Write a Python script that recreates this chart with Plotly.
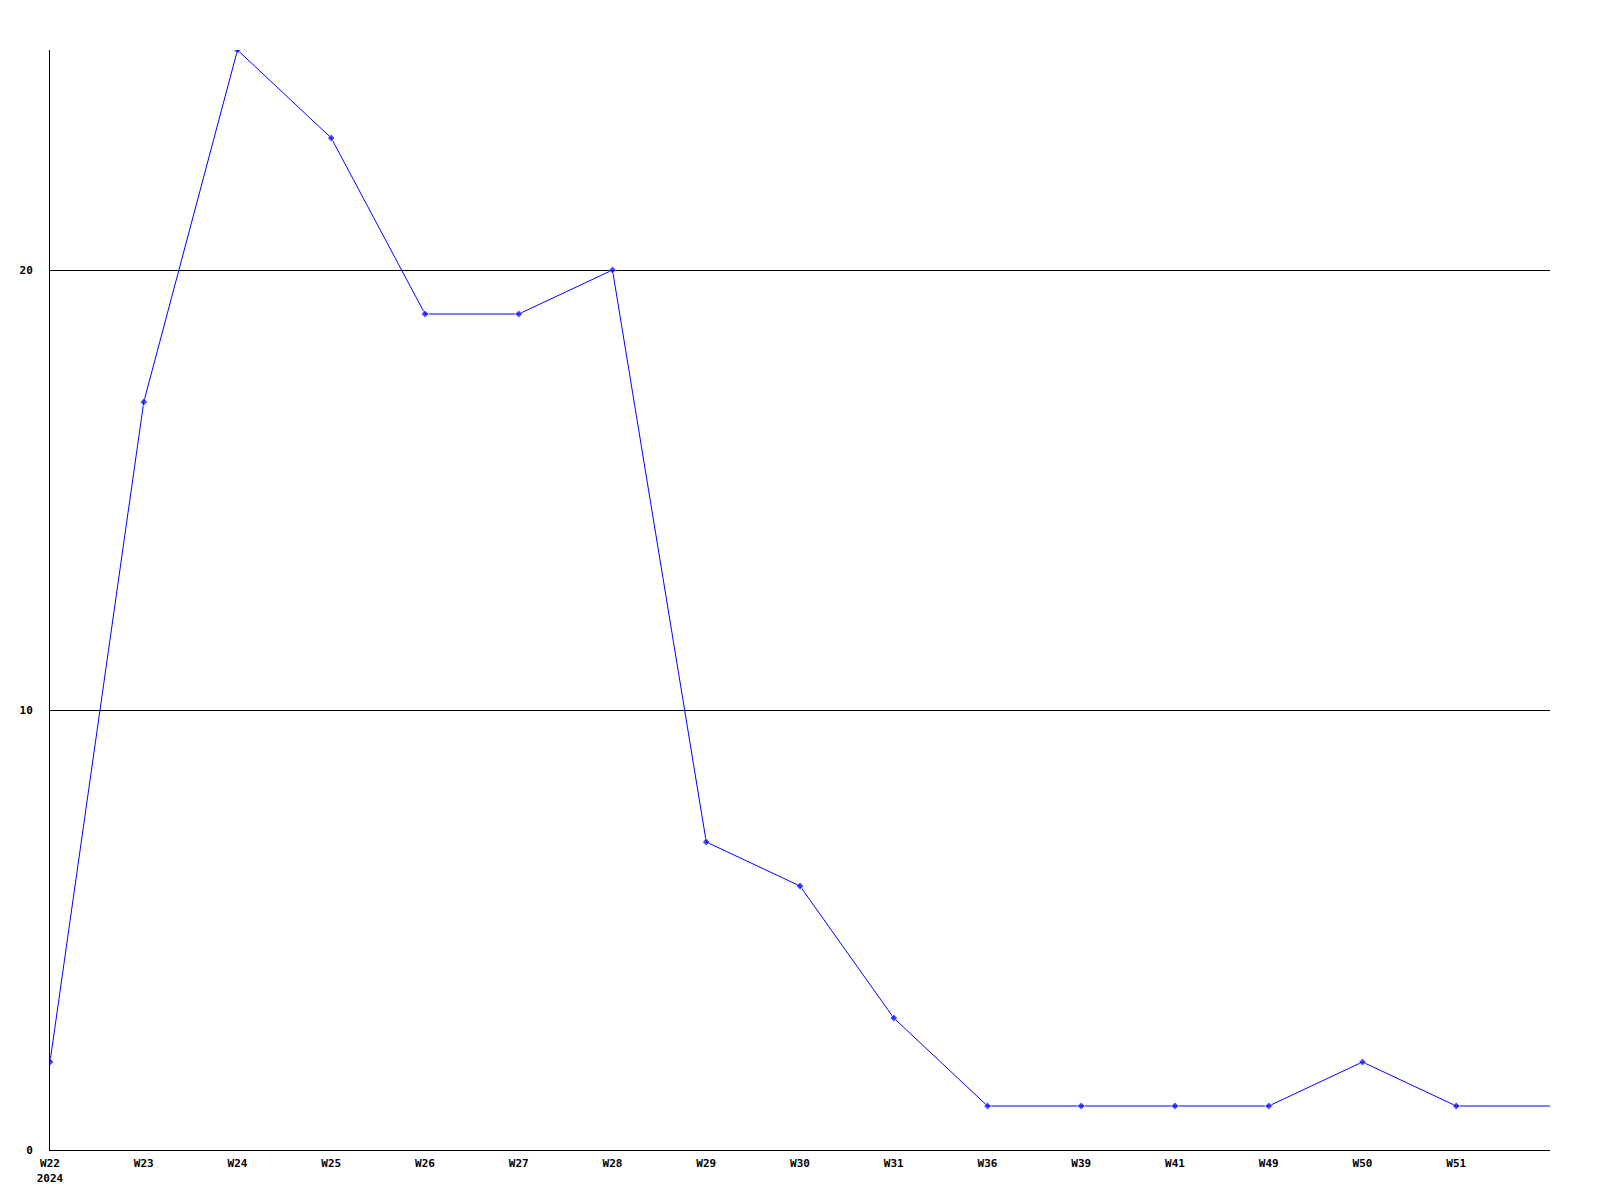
import plotly.graph_objects as go

weeks = ["W22<br>2024", "W23", "W24", "W25", "W26", "W27", "W28", "W29", "W30",
         "W31", "W36", "W39", "W41", "W49", "W50", "W51", ""]
values = [2, 17, 25, 23, 19, 19, 20, 7, 6, 3, 1, 1, 1, 1, 2, 1, 1]
y_ticks = [0, 10, 20]

x = list(range(len(weeks)))
marker_sizes = [6] * (len(weeks) - 1) + [0]

fig = go.Figure()
fig.add_trace(go.Scatter(
    x=x, y=values, mode="lines+markers",
    line=dict(color="#0000ff", width=1),
    marker=dict(color="#0000ff", size=marker_sizes, symbol="diamond"),
    showlegend=False, hoverinfo="skip",
))

font = dict(family="DejaVu Sans Mono", size=11, color="black")
fig.update_layout(
    width=1600, height=1200,
    margin=dict(l=42, r=58, t=42, b=58, autoexpand=False),
    paper_bgcolor="white", plot_bgcolor="white",
    font=font,
    xaxis=dict(
        range=[0, len(weeks) - 1], tickmode="array",
        tickvals=x[:-1], ticktext=["<b>%s</b>" % w for w in weeks[:-1]],
        showgrid=False, zeroline=False, showline=True, linecolor="black", linewidth=1,
        ticks="outside", ticklen=3, tickcolor="white", tickfont=font, automargin=False,
    ),
    yaxis=dict(
        range=[0, 25], tickmode="array", tickvals=y_ticks,
        ticktext=["<b>%d</b>" % v for v in y_ticks],
        showgrid=True, gridcolor="black", gridwidth=1,
        zeroline=False, showline=True, linecolor="black", linewidth=1,
        ticks="outside", ticklen=14, tickcolor="white", tickfont=font, automargin=False,
    ),
)

fig.write_html("out.html")
